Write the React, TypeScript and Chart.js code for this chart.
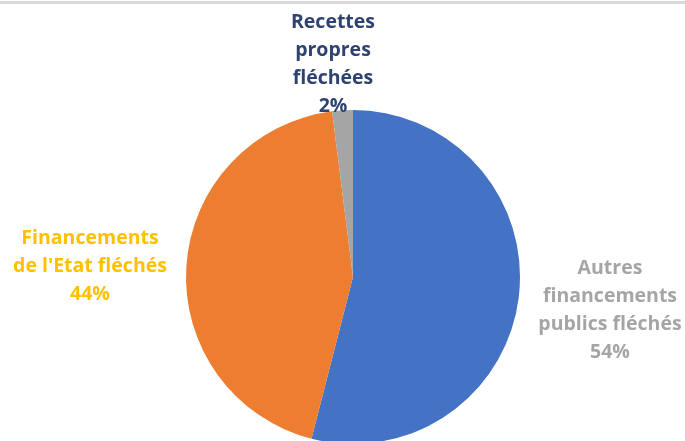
import React, { useEffect, useRef } from "react";
import { Chart, registerables } from "chart.js";

Chart.register(...registerables);

const categories = [
  ["Autres", "financements", "publics fléchés"],
  ["Financements", "de l'Etat fléchés"],
  ["Recettes", "propres", "fléchées"],
];
const values = [54, 44, 2];
const percentLabels = ["54%", "44%", "2%"];
const sliceColors = ["#4472C4", "#ED7D31", "#A5A5A5"];
const labelColors = ["#A5A5A5", "#FFC000", "#2E4372"];
// label block centre, relative to pie centre (px)
const labelOffsets = [
  [257, 33],
  [-263, -11],
  [-20, -213],
];

const labelPlugin = {
  id: "outsideLabels",
  afterDraw(chart: any) {
    const ctx = chart.ctx;
    const meta = chart.getDatasetMeta(0);
    ctx.save();
    ctx.font = "bold 19.5px 'Open Sans', sans-serif";
    ctx.textAlign = "center";
    ctx.textBaseline = "middle";
    const lh = 28;
    meta.data.forEach((arc: any, i: number) => {
      const lines = [...categories[i], percentLabels[i]];
      const cx = arc.x + labelOffsets[i][0];
      const cy = arc.y + labelOffsets[i][1];
      ctx.fillStyle = labelColors[i];
      const top = cy - ((lines.length - 1) * lh) / 2;
      lines.forEach((l, j) => ctx.fillText(l, cx, top + j * lh));
    });
    ctx.restore();
  },
};

export default function App() {
  const ref = useRef<HTMLCanvasElement>(null);
  useEffect(() => {
    const chart = new Chart(ref.current!, {
      type: "pie",
      data: {
        labels: categories.map((c) => c.join(" ")),
        datasets: [
          {
            data: values,
            backgroundColor: sliceColors,
            borderWidth: 0,
          },
        ],
      },
      options: {
        animation: false,
        responsive: false,
        layout: { padding: { top: 110, bottom: 16, left: 21, right: 0 } },
        plugins: { legend: { display: false }, tooltip: { enabled: false } },
      },
      plugins: [labelPlugin],
    });
    return () => chart.destroy();
  }, []);
  return (
    <div
      style={{
        position: "fixed",
        left: 0,
        top: 0,
        width: 685,
        height: 441,
        overflow: "hidden",
        background: "#fff",
      }}
    >
      <div style={{ position: "absolute", left: 0, top: 1, width: 685, height: 3, background: "#D9D9D9" }} />
      <canvas ref={ref} width={685} height={460} style={{ display: "block", position: "absolute", top: 0, left: 0 }} />
    </div>
  );
}
